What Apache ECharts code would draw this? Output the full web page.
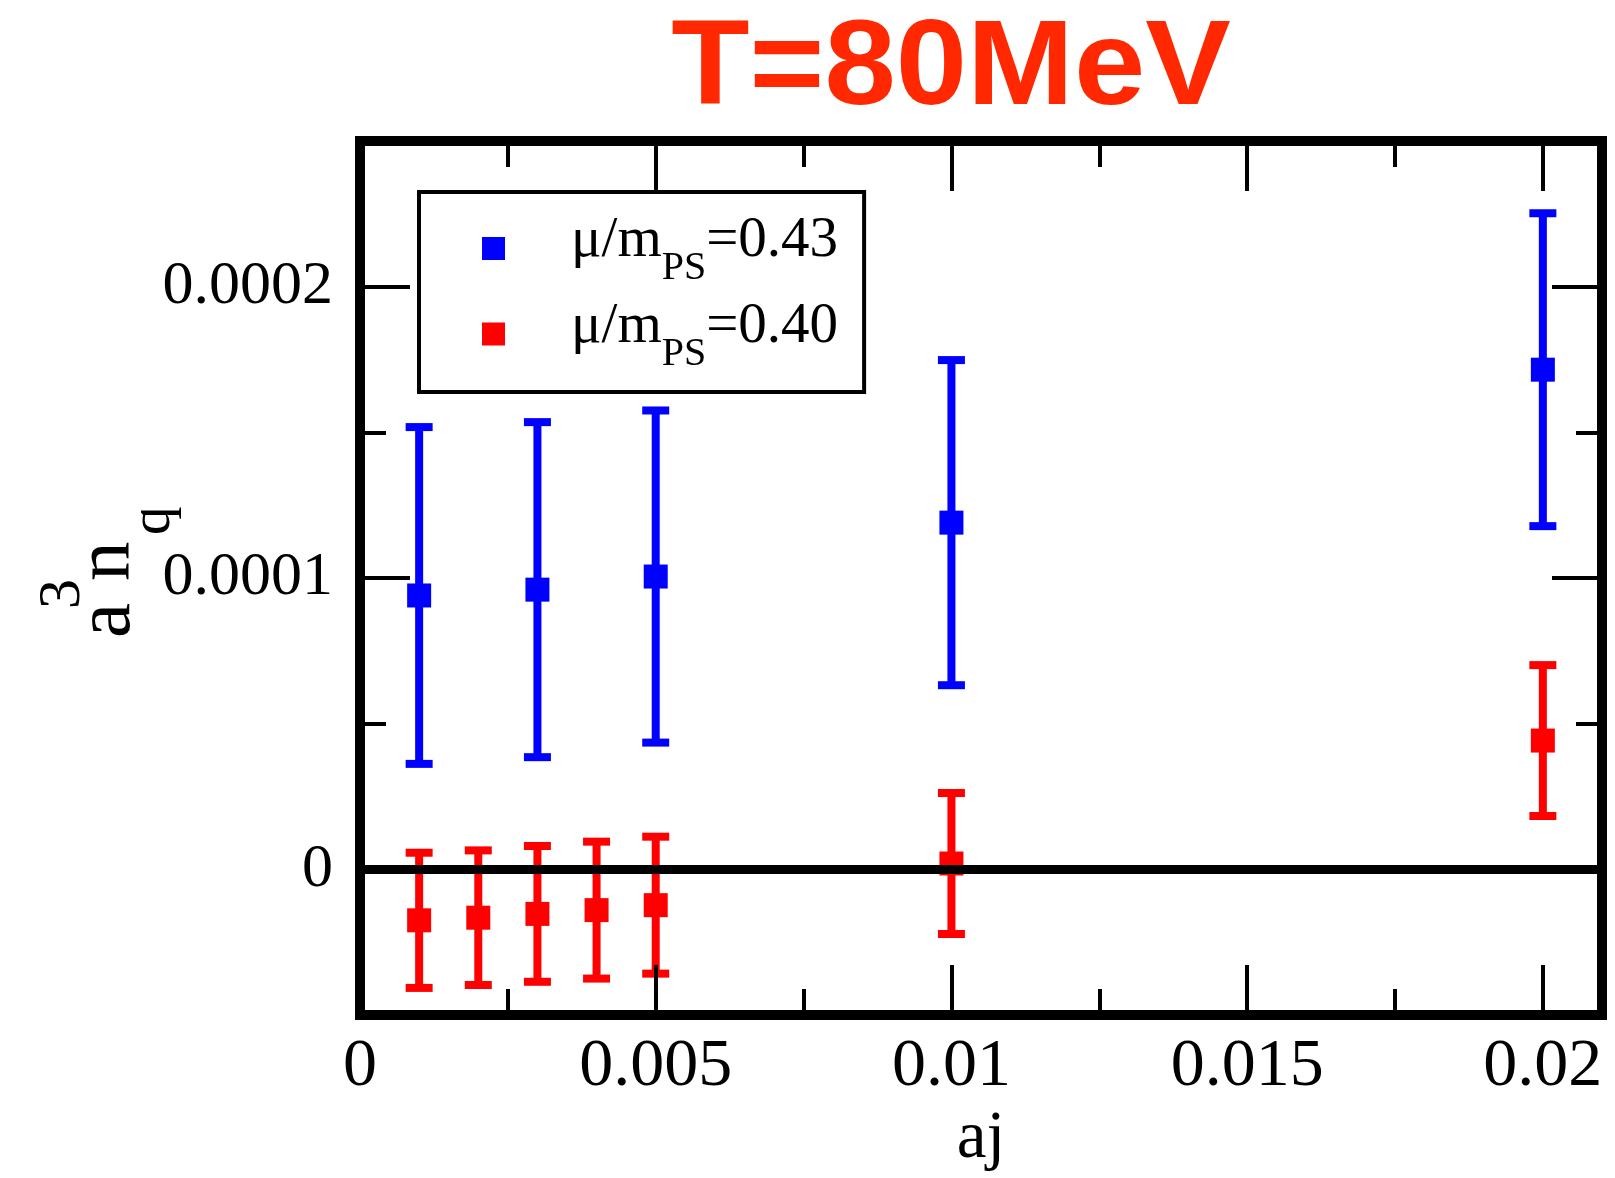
<!DOCTYPE html>
<html>
<head>
<meta charset="utf-8">
<script src="https://cdn.jsdelivr.net/npm/echarts@6/dist/echarts.min.js"></script>
<style>
  html, body { margin: 0; padding: 0; background: #ffffff; }
  #chart { width: 1615px; height: 1178px; }
</style>
</head>
<body>
<div id="chart"></div>
<script>
// Quark number density a^3 n_q against the diquark source aj, T = 80 MeV.
const ajBlue  = [0.001, 0.003, 0.005, 0.01, 0.02];
const nqBlue  = [9.4e-5, 9.6e-5, 1.005e-4, 1.19e-4, 1.715e-4];
const errBlue = [5.78e-5, 5.75e-5, 5.7e-5, 5.58e-5, 5.37e-5];

const ajRed  = [0.001, 0.002, 0.003, 0.004, 0.005, 0.01, 0.02];
const nqRed  = [-1.75e-5, -1.66e-5, -1.53e-5, -1.4e-5, -1.23e-5, 2.0e-6, 4.42e-5];
const errRed = [2.32e-5, 2.31e-5, 2.33e-5, 2.35e-5, 2.35e-5, 2.42e-5, 2.59e-5];

const seriesNames = ['mu043', 'mu040'];
const ratioLabels = ['0.43', '0.40'];

const xTickValues = [0, 0.005, 0.01, 0.015, 0.02];
const xTickLabels = ['0', '0.005', '0.01', '0.015', '0.02'];
const xMinorTicks = [0.0025, 0.0075, 0.0125, 0.0175];
const yTickValues = [0, 0.0001, 0.0002];
const yTickLabels = ['0', '0.0001', '0.0002'];
const yMinorTicks = [0.00005, 0.00015];

const BLUE = '#0000ff';
const RED = '#ff0000';
const SERIF = '"Liberation Serif", "Times New Roman", serif';

function pick(values, labels) {
  return function (v) {
    const i = values.findIndex(t => Math.abs(t - v) < 1e-12);
    return i >= 0 ? labels[i] : '';
  };
}

function zip3(a, b, c) { return a.map((v, i) => [v, b[i], c[i]]); }

function errorBar(params, api) {
  const x = api.value(0), y = api.value(1), e = api.value(2);
  const top = api.coord([x, y + e]);
  const bot = api.coord([x, y - e]);
  const half = 13.5;
  const style = { stroke: api.visual('color'), lineWidth: 8 };
  return {
    type: 'group',
    children: [
      { type: 'line', shape: { x1: top[0], y1: top[1], x2: bot[0], y2: bot[1] }, style },
      { type: 'line', shape: { x1: top[0] - half, y1: top[1], x2: top[0] + half, y2: top[1] }, style },
      { type: 'line', shape: { x1: bot[0] - half, y1: bot[1], x2: bot[0] + half, y2: bot[1] }, style }
    ]
  };
}

const tickLine = { color: '#000', width: 4 };

function xAxisDef(position, ticks, length, withLabels) {
  const ax = {
    type: 'value', gridIndex: 0, position, min: 0, max: 0.021, z: 10,
    axisLine: { show: false, onZero: false }, splitLine: { show: false },
    axisTick: { show: true, inside: true, length, customValues: ticks, lineStyle: tickLine },
    axisLabel: { show: false }
  };
  if (withLabels) {
    ax.axisLabel = {
      show: true, customValues: ticks, formatter: pick(xTickValues, xTickLabels),
      fontFamily: SERIF, fontSize: 68, color: '#000', margin: 18
    };
    ax.name = 'aj';
    ax.nameLocation = 'middle';
    ax.nameGap = 87;
    ax.nameTextStyle = { fontFamily: SERIF, fontSize: 67, color: '#000' };
  }
  return ax;
}

function yAxisDef(position, ticks, length, withLabels) {
  const ax = {
    type: 'value', gridIndex: 0, position, min: -0.00005, max: 0.00025, z: 10,
    axisLine: { show: false, onZero: false }, splitLine: { show: false },
    axisTick: { show: true, inside: true, length, customValues: ticks, lineStyle: tickLine },
    axisLabel: { show: false }
  };
  if (withLabels) {
    ax.axisLabel = {
      show: true, customValues: ticks, formatter: pick(yTickValues, yTickLabels),
      fontFamily: SERIF, fontSize: 62, color: '#000', margin: 27
    };
  }
  return ax;
}

// rotated y-axis title: a^3 n_q
function yTitlePiece(text, x, y, size) {
  return {
    type: 'text', x, y, rotation: Math.PI / 2, z: 20,
    style: { text, fontFamily: SERIF, fontSize: size, fill: '#000', align: 'left', verticalAlign: 'middle' }
  };
}

const chart = echarts.init(document.getElementById('chart'), null, { renderer: 'canvas' });

chart.setOption({
  backgroundColor: '#ffffff',
  animation: false,
  grid: {
    left: 360, right: 13, top: 141, bottom: 163,
    show: true, borderColor: '#000', borderWidth: 10, backgroundColor: 'transparent'
  },
  xAxis: [
    xAxisDef('bottom', xTickValues, 50, true),
    xAxisDef('bottom', xMinorTicks, 26, false),
    xAxisDef('top', xTickValues, 50, false),
    xAxisDef('top', xMinorTicks, 26, false)
  ],
  yAxis: [
    yAxisDef('left', yTickValues, 50, true),
    yAxisDef('left', yMinorTicks, 26, false),
    yAxisDef('right', yTickValues, 50, false),
    yAxisDef('right', yMinorTicks, 26, false)
  ],
  legend: {
    data: seriesNames,
    orient: 'vertical',
    left: 419, top: 192,
    padding: [21, 26, 18, 63],
    itemGap: 10,
    itemWidth: 23, itemHeight: 23,
    icon: 'rect',
    borderColor: '#000', borderWidth: 4,
    backgroundColor: '#ffffff',
    selectedMode: false,
    formatter: function (name) {
      const i = seriesNames.indexOf(name);
      return '{g| }{t|\u03bc/m}{s|PS}{t|=' + ratioLabels[i] + '}';
    },
    textStyle: {
      fontFamily: SERIF, fontSize: 57, color: '#000',
      rich: {
        g: { width: 61, fontSize: 57 },
        t: { fontFamily: SERIF, fontSize: 57, color: '#000', padding: [0, 0, 14, 0] },
        s: { fontFamily: SERIF, fontSize: 40, color: '#000', padding: [40, 0, 0, 0] }
      }
    }
  },
  graphic: [
    {
      type: 'text', x: 951, y: 71, scaleX: 1.06, z: 20,
      style: {
        text: 'T=80MeV', fontFamily: '"Liberation Sans", Arial, sans-serif',
        fontWeight: 'bold', fontSize: 121, fill: '#ff2800',
        align: 'center', verticalAlign: 'middle'
      }
    },
    yTitlePiece('a', 108, 638, 79),
    yTitlePiece('3', 63, 609, 60),
    yTitlePiece('n', 108, 581, 79),
    yTitlePiece('q', 154, 535, 57)
  ],
  series: [
    {
      name: 'barsBlue', type: 'custom', renderItem: errorBar,
      itemStyle: { color: BLUE }, data: zip3(ajBlue, nqBlue, errBlue),
      encode: { x: 0, y: 1 }, z: 2, silent: true
    },
    {
      name: 'barsRed', type: 'custom', renderItem: errorBar,
      itemStyle: { color: RED }, data: zip3(ajRed, nqRed, errRed),
      encode: { x: 0, y: 1 }, z: 2, silent: true
    },
    {
      name: seriesNames[0], type: 'scatter', symbol: 'rect', symbolSize: 24,
      itemStyle: { color: BLUE, opacity: 1 }, z: 3,
      data: ajBlue.map((x, i) => [x, nqBlue[i]])
    },
    {
      name: seriesNames[1], type: 'scatter', symbol: 'rect', symbolSize: 24,
      itemStyle: { color: RED, opacity: 1 }, z: 3,
      data: ajRed.map((x, i) => [x, nqRed[i]])
    },
    {
      name: 'zero', type: 'line', data: [], z: 5, silent: true,
      markLine: {
        silent: true, symbol: 'none', label: { show: false }, animation: false,
        lineStyle: { color: '#000', width: 9, type: 'solid' },
        data: [{ yAxis: 0 }]
      }
    }
  ]
});
</script>
</body>
</html>
